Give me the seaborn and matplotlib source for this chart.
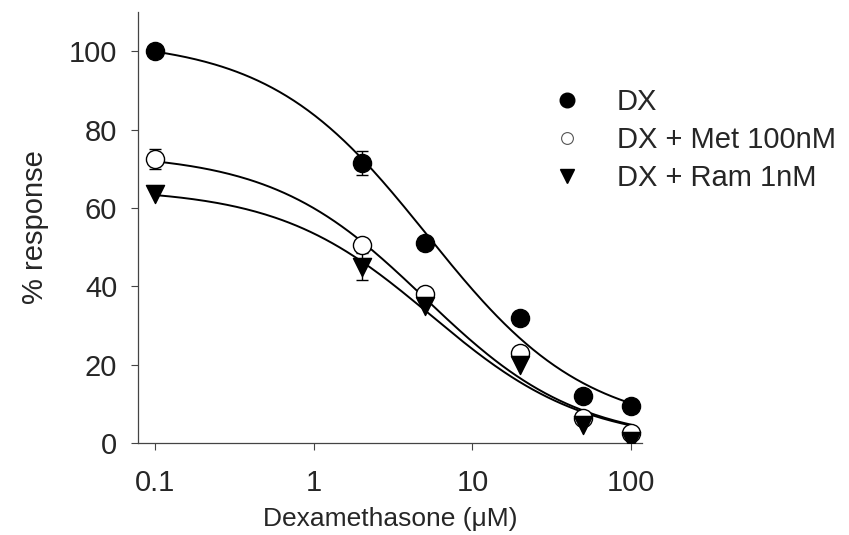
import numpy as np
import pandas as pd
import matplotlib
matplotlib.use("Agg")
import matplotlib.pyplot as plt
import seaborn as sns
from matplotlib.lines import Line2D

# ---- data ----
conc = [0.1, 2, 5, 20, 50, 100]  # Dexamethasone (uM)
dx = [100, 71.5, 51, 32, 12, 9.5]
dx_err = [0, 3, 0, 0, 0, 1.5]
met = [72.5, 50.5, 38, 23, 6.5, 2.5]
met_err = [2.5, 0, 0, 0, 1.0, 0]
ram = [63.5, 45, 35, 20, 4.5, 0.5]
ram_err = [0, 3.5, 0, 0, 0, 0]
series = ["DX", "DX + Met 100nM", "DX + Ram 1nM"]
# fitted sigmoid parameters (top, bottom, EC50, hill) as drawn
fit_top = [103, 74, 65]
fit_bottom = [3, 0, 0]
fit_ec50 = [5.2, 5, 5.5]
fit_hill = [0.87, 0.9, 0.9]
xticks = [0.1, 1, 10, 100]
xticklabels = ["0.1", "1", "10", "100"]
yticks = [0, 20, 40, 60, 80, 100]

sns.set_theme(style="ticks")
plt.rcParams["font.family"] = ["Liberation Sans", "DejaVu Sans"]

fig = plt.figure(figsize=(8.49, 5.35), dpi=100)
ax = fig.add_axes([138 / 849, 1 - 443 / 535, (642 - 138) / 849, (443 - 12) / 535])

df = pd.DataFrame({
    "conc": conc * 3,
    "resp": dx + met + ram,
    "err": dx_err + met_err + ram_err,
    "series": sum([[s] * len(conc) for s in series], []),
})

# fitted curves
xs = np.logspace(np.log10(0.1), np.log10(100), 200)
curve_rows = []
for s, t, b, c, h in zip(series, fit_top, fit_bottom, fit_ec50, fit_hill):
    ys = b + (t - b) / (1 + (xs / c) ** h)
    curve_rows.append(pd.DataFrame({"conc": xs, "resp": ys, "series": s}))
curves = pd.concat(curve_rows)
sns.lineplot(data=curves, x="conc", y="resp", units="series", estimator=None,
             color="black", lw=1.4, ax=ax, legend=False, zorder=2)

# error bars
for s in series:
    d = df[df.series == s]
    d = d[d.err > 0]
    ax.errorbar(d.conc, d.resp, yerr=d.err, fmt="none", ecolor="black",
                elinewidth=1.0, capsize=4, capthick=1.0, zorder=3)

markers = {"DX": "o", "DX + Met 100nM": "o", "DX + Ram 1nM": "v"}
faces = {"DX": "black", "DX + Met 100nM": "white", "DX + Ram 1nM": "black"}
for s in series:
    d = df[df.series == s]
    sns.scatterplot(data=d, x="conc", y="resp", marker=markers[s], s=170,
                    color=faces[s], edgecolor="black", linewidth=1.0,
                    ax=ax, zorder=4, legend=False)

ax.set_xscale("log")
ax.set_xlim(0.078, 117)
ax.set_ylim(0, 110)
ax.set_xticks(xticks)
ax.set_xticklabels(xticklabels)
ax.xaxis.set_minor_locator(matplotlib.ticker.NullLocator())
ax.set_yticks(yticks)
ax.tick_params(axis="both", labelsize=21, length=5, width=0.8, color="#444444")
ax.tick_params(axis="x", pad=14)
ax.tick_params(axis="y", pad=10)
for sp in ["top", "right"]:
    ax.spines[sp].set_visible(False)
for sp in ["left", "bottom"]:
    ax.spines[sp].set_linewidth(0.9)
    ax.spines[sp].set_color("#444444")
ax.set_xlabel("Dexamethasone (\u03bcM)", fontsize=19, labelpad=7)
ax.set_ylabel("% response", fontsize=21, labelpad=14)

handles = [
    Line2D([], [], marker="o", ls="none", color="black", markersize=10.5),
    Line2D([], [], marker="o", ls="none", markerfacecolor="white",
           markeredgecolor="#555555", markeredgewidth=0.8, markersize=8.5),
    Line2D([], [], marker="v", ls="none", color="black", markersize=10.5),
]
fig.legend(handles, series, loc="upper left", bbox_to_anchor=(549 / 849, 1 - 88 / 535),
           frameon=False, fontsize=21, handletextpad=1.12, labelspacing=0.34,
           borderaxespad=0, handlelength=1.2, borderpad=0)

fig.savefig("out.png", dpi=100)
